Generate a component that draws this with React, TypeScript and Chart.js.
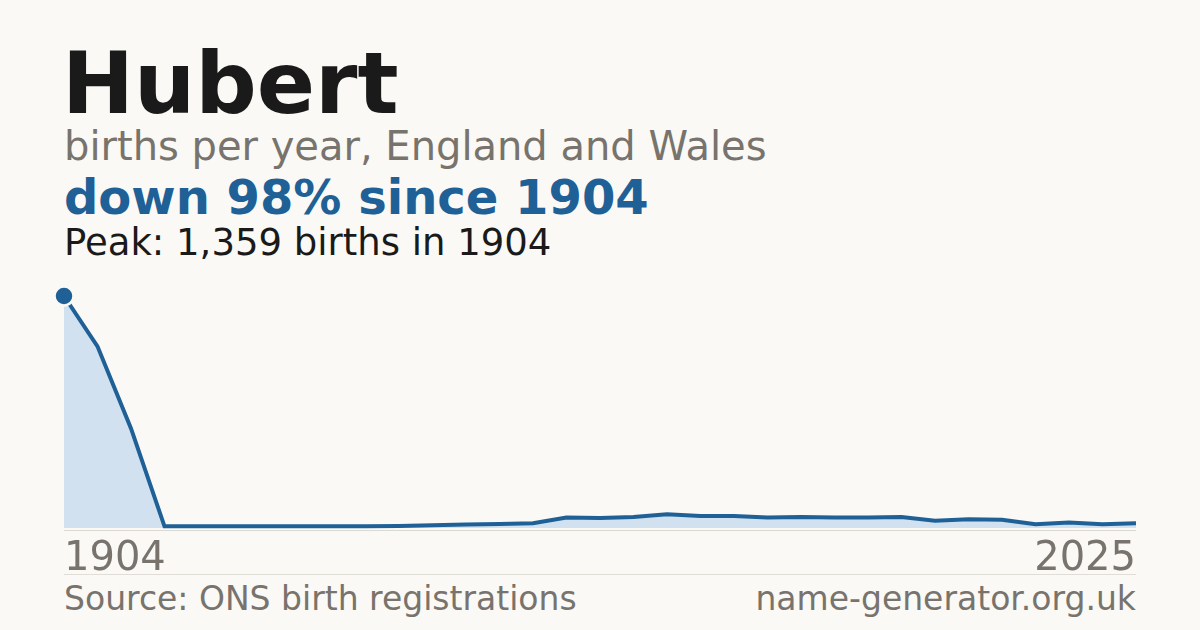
import { useEffect, useRef } from "react"
import { Chart, registerables } from "chart.js"

Chart.register(...registerables)

// Data points (category axis, evenly spaced as in the original)
const years = [
  "1904", "1914", "1924", "1934", "1944", "1954", "1964", "1974", "1984", "1994",
  "2003", "2004", "2005", "2006", "2007", "2008", "2009", "2010", "2011", "2012",
  "2013", "2014", "2015", "2016", "2017", "2018", "2019", "2020", "2021", "2022",
  "2023", "2024", "2025",
]
const births = [
  1359, 1064, 583, 10, 10, 10, 10, 10, 10, 10,
  12, 16, 20, 24, 28, 61, 59, 64, 80, 70,
  70, 61, 65, 61, 61, 65, 42, 51, 48, 22,
  32, 22, 28,
]
const peakValue = 1359

const BG = "#faf9f5"
const BLUE = "#1f6096"
const GREY = "#78736c"
const FONT = "'DejaVu Sans', sans-serif"

export default function App() {
  const chartRef = useRef<HTMLCanvasElement>(null)
  const chartInstance = useRef<Chart | null>(null)

  useEffect(() => {
    document.body.style.margin = "0"
    document.body.style.background = BG
    if (!chartRef.current) return
    if (chartInstance.current) chartInstance.current.destroy()
    const ctx = chartRef.current.getContext("2d")
    if (!ctx) return

    chartInstance.current = new Chart(ctx, {
      type: "line",
      data: {
        labels: years,
        datasets: [
          {
            data: births,
            borderColor: BLUE,
            borderWidth: 4,
            backgroundColor: "#d1e1ef",
            fill: "origin",
            tension: 0,
            clip: false,
            pointRadius: (c: any) => (c.dataIndex === 0 ? 9.5 : 0),
            pointBackgroundColor: BLUE,
            pointBorderColor: BG,
            pointBorderWidth: 2.5,
          },
        ],
      },
      options: {
        responsive: true,
        maintainAspectRatio: false,
        animation: false,
        layout: { padding: { left: 14, right: 14, top: 16, bottom: 9.5 } },
        scales: {
          x: { display: false },
          y: { display: false, min: 0, max: peakValue },
        },
        plugins: {
          legend: { display: false },
          tooltip: { enabled: false },
        },
      },
    })

    return () => {
      if (chartInstance.current) chartInstance.current.destroy()
    }
  }, [])

  const text = (top: number, size: number, color: string, weight = 400) => ({
    position: "absolute" as const,
    top,
    fontSize: size,
    lineHeight: 1,
    color,
    fontWeight: weight,
    whiteSpace: "nowrap" as const,
  })

  return (
    <div
      style={{
        position: "fixed",
        left: 0,
        top: 0,
        width: 1200,
        height: 630,
        background: BG,
        fontFamily: FONT,
        overflow: "hidden",
      }}
    >
      <div style={{ ...text(40, 86, "#1a1a1a", 700), left: 62 }}>Hubert</div>
      <div style={{ ...text(126, 40, GREY), left: 64 }}>births per year, England and Wales</div>
      <div style={{ ...text(173, 48, BLUE, 700), left: 64 }}>down 98% since 1904</div>
      <div style={{ ...text(224, 37, "#1a1a1a"), left: 64 }}>Peak: 1,359 births in 1904</div>

      <div style={{ position: "absolute", left: 50, top: 280, width: 1100, height: 260 }}>
        <canvas ref={chartRef}></canvas>
      </div>
      <div style={{ position: "absolute", left: 64, top: 530, width: 1072, height: 1, background: "#dcd9d2" }} />

      <div style={{ ...text(536, 40, GREY), left: 64 }}>1904</div>
      <div style={{ ...text(536, 40, GREY), right: 64 }}>2025</div>
      <div style={{ position: "absolute", left: 64, top: 574, width: 1072, height: 1, background: "#e0ddd6" }} />
      <div style={{ ...text(582, 33, GREY), left: 64 }}>Source: ONS birth registrations</div>
      <div style={{ ...text(582, 33, GREY), right: 64 }}>name-generator.org.uk</div>
    </div>
  )
}
